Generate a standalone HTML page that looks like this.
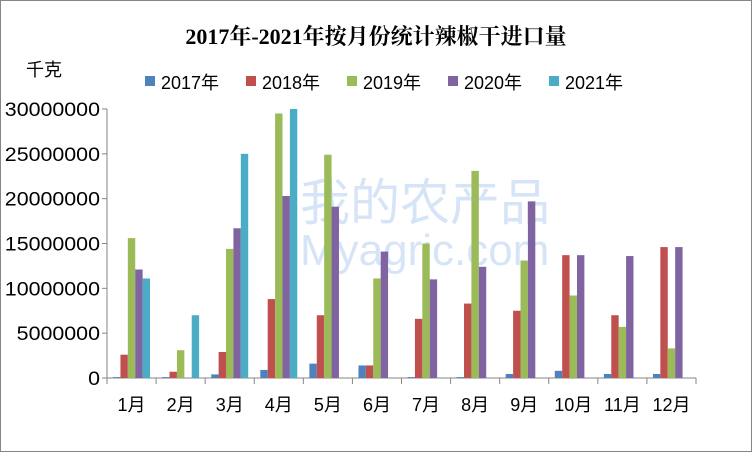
<!DOCTYPE html>
<html><head><meta charset="utf-8"><style>
body{margin:0;background:#fff;}
svg text{font-family:"Liberation Sans","Noto Sans CJK SC",sans-serif;}
</style></head><body>
<svg width="752" height="452">
<rect x="0.5" y="0.5" width="751" height="451" fill="#fff" stroke="#868686"/>
<text x="376" y="44" text-anchor="middle" font-size="22" font-weight="bold" style="font-family:'Liberation Serif','Noto Serif CJK SC',serif">2017年-2021年按月份统计辣椒干进口量</text>
<text x="26" y="76" font-size="18">千克</text>
<g opacity="0.3">
<text x="300" y="220" font-size="50" fill="#7aa7e8">我的农产品</text>
<text x="300" y="265" font-size="44" fill="#7aa7e8">Myagric.com</text>
</g>
<g id="legend"></g>
<g id="axes"></g>
<g id="bars"></g>
</svg>
<script>
const categories=["1月","2月","3月","4月","5月","6月","7月","8月","9月","10月","11月","12月"];
const seriesNames=["2017年","2018年","2019年","2020年","2021年"];
const s2017=[100000,100000,400000,900000,1600000,1400000,100000,100000,450000,800000,450000,450000];
const s2018=[2600000,700000,2900000,8800000,7000000,1400000,6600000,8300000,7500000,13700000,7000000,14600000];
const s2019=[15600000,3100000,14400000,29500000,24900000,11100000,15000000,23100000,13100000,9200000,5700000,3300000];
const s2020=[12100000,0,16700000,20300000,19100000,14100000,11000000,12400000,19700000,13700000,13600000,14600000];
const s2021=[11100000,7000000,25000000,30000000,null,null,null,null,null,null,null,null];
const yTicks=[0,5000000,10000000,15000000,20000000,25000000,30000000];
const colors=["#4f81bd","#c0504d","#9bbb59","#8064a2","#4bacc6"];
const series=[s2017,s2018,s2019,s2020,s2021];
const NS="http://www.w3.org/2000/svg";
const x0=107,x1=696,y0=378,yTop=109,yMax=30000000;
const step=(x1-x0)/categories.length;
const bw=7.4;
function Y(v){return y0-(v/yMax)*(y0-yTop);}
function X(i){return x0+i*step;}
function mk(t,a,p){const e=document.createElementNS(NS,t);for(const k in a)e.setAttribute(k,a[k]);p.appendChild(e);return e;}
const ax=document.getElementById('axes');
let l=mk('line',{x1:x0,y1:yTop,x2:x0,y2:y0,stroke:'#868686'},ax);


l=mk('line',{x1:x0,y1:y0,x2:x1,y2:y0,stroke:'#868686'},ax);


yTicks.forEach(v=>{
 const y=Y(v);
 mk('line',{x1:x0-5,y1:y,x2:x0,y2:y,stroke:'#868686'},ax);
 const t=mk('text',{x:x0-7,y:y+7,'text-anchor':'end','font-size':19,textLength:String(v).length*11.9,lengthAdjust:'spacingAndGlyphs'},ax);
 t.textContent=String(v);
 
 
});
categories.forEach((c,i)=>{
 mk('line',{x1:X(i),y1:y0,x2:X(i),y2:y0+6,stroke:'#868686'},ax);
 const t=mk('text',{x:X(i)+step/2,y:y0+33,'text-anchor':'middle','font-size':18},ax);
 t.textContent=c;
 
 
});
mk('line',{x1:x1,y1:y0,x2:x1,y2:y0+6,stroke:'#868686'},ax);
const bg=document.getElementById('bars');
categories.forEach((c,i)=>{
 const gx=X(i)+(step-bw*5)/2;
 series.forEach((s,k)=>{
  const v=s[i];if(v==null)return;
  const r=mk('rect',{x:gx+k*bw,y:Y(v),width:bw,height:y0-Y(v),fill:colors[k]},bg);
  
  
 });
});
const lg=document.getElementById('legend');
const lx=[145,246,347,448,549];
seriesNames.forEach((n,k)=>{
 const g=mk('g',{},lg);
 
 
 mk('rect',{x:lx[k],y:76,width:10,height:10,fill:colors[k]},g);
 const t=mk('text',{x:lx[k]+16,y:89,'font-size':18},g);
 t.textContent=n;
});
</script>
</body></html>
